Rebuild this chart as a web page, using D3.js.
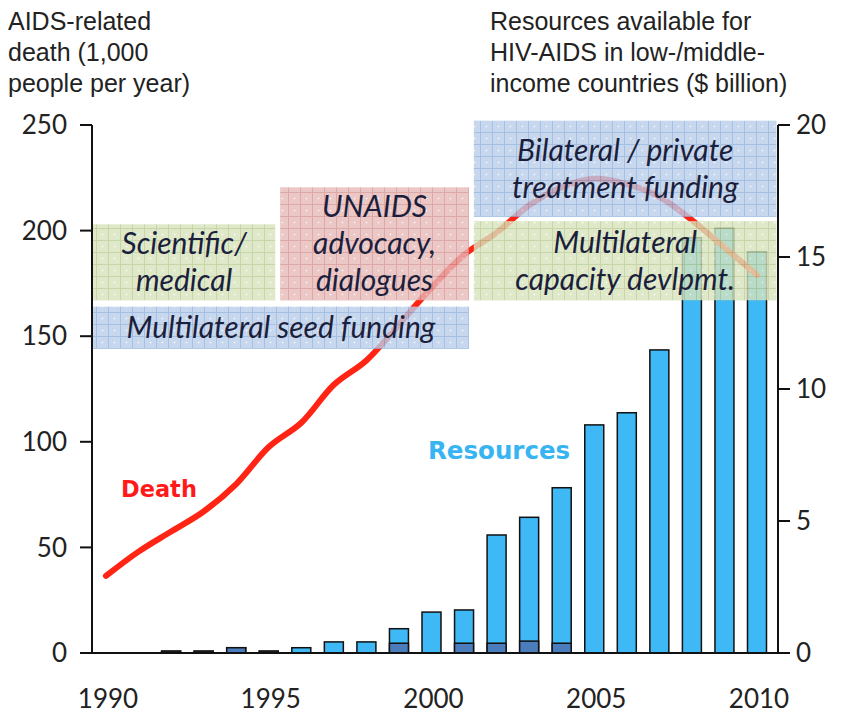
<!DOCTYPE html>
<html>
<head>
<meta charset="utf-8">
<script src="https://cdn.jsdelivr.net/npm/d3@7"></script>
<style>
  body { margin: 0; background: #fff; }
  svg { display: block; }
</style>
</head>
<body>
<div id="chart"></div>
<script>
// data
var years = d3.range(1990, 2011);
var deaths = [36.5, 48, 57.5, 67, 80, 97.5, 109, 127, 138.5, 155.5, 173, 188.5, 199, 212, 220.5, 224.5, 222, 216, 205, 192, 179];
var resDark = [0, 0, 0.07, 0.07, 0.2, 0.07, 0, 0, 0, 0.37, 0, 0.37, 0.37, 0.45, 0.37, 0, 0, 0, 0, 0, 0];
var resTotal = [0, 0, 0.07, 0.07, 0.2, 0.07, 0.2, 0.42, 0.42, 0.92, 1.55, 1.63, 4.47, 5.14, 6.26, 8.64, 9.1, 11.48, 15.73, 16.09, 15.2];
var leftTicks = [0, 50, 100, 150, 200, 250];
var rightTicks = [0, 5, 10, 15, 20];
var xTicks = [1990, 1995, 2000, 2005, 2010];

// annotation boxes: [x0 year, x1 year, y top, y bottom (left axis units)], label lines
var boxes = [
  {name: "sci", color: "green", x0: 1989.6, x1: 1995.2, y0: 203, y1: 167, lines: ["Scientific/", "medical"]},
  {name: "unaids", color: "red", x0: 1995.35, x1: 2001.15, y0: 220.5, y1: 167, lines: ["UNAIDS", "advocacy,", "dialogues"]},
  {name: "seed", color: "blue", x0: 1989.6, x1: 2001.15, y0: 164, y1: 144, lines: ["Multilateral seed funding"]},
  {name: "bilat", color: "blue", x0: 2001.3, x1: 2010.6, y0: 252, y1: 206.5, lines: ["Bilateral / private", "treatment funding"]},
  {name: "multi", color: "green", x0: 2001.3, x1: 2010.6, y0: 204.5, y1: 167, lines: ["Multilateral", "capacity devlpmt."]}
];

var W = 847, H = 714;
var x0 = 92, x1 = 778, yBase = 653, yTop = 125;

var x = d3.scaleLinear().domain([1990, 2010]).range([106, 757]);
var yL = d3.scaleLinear().domain([0, 250]).range([yBase, yTop]);
var yR = d3.scaleLinear().domain([0, 20]).range([yBase, yTop]);

var svg = d3.select("#chart").append("svg")
  .attr("width", W)
  .attr("height", H);

// patterns for the boxes
var palette = {
  green: {bg: "#d7e4bd", line: "#b9cc92"},
  red: {bg: "#e6b9b8", line: "#d49392"},
  blue: {bg: "#b9cde9", line: "#8fb0dc"}
};
var defs = svg.append("defs");
Object.keys(palette).forEach(function(k) {
  var p = defs.append("pattern")
    .attr("id", "pat-" + k)
    .attr("width", 12)
    .attr("height", 12)
    .attr("patternUnits", "userSpaceOnUse");
  p.append("rect").attr("width", 12).attr("height", 12).attr("fill", palette[k].bg);
  p.append("path").attr("d", "M0,0.5H12M0.5,0V12")
    .attr("stroke", palette[k].line).attr("stroke-width", 1);
  p.append("circle").attr("cx", 6.5).attr("cy", 6.5).attr("r", 0.8).attr("fill", "#fff");
});

// bars
var barW = 19;
var bars = svg.append("g");
years.forEach(function(yr, i) {
  if (resTotal[i] <= 0) return;
  var cx = x(yr);
  bars.append("rect")
    .attr("x", cx - barW / 2)
    .attr("y", yR(resTotal[i]))
    .attr("width", barW)
    .attr("height", yR(0) - yR(resTotal[i]))
    .attr("fill", "#3fb8f6")
    .attr("stroke", "#111")
    .attr("stroke-width", 1.5);
  if (resDark[i] > 0) {
    bars.append("rect")
      .attr("x", cx - barW / 2)
      .attr("y", yR(resDark[i]))
      .attr("width", barW)
      .attr("height", yR(0) - yR(resDark[i]))
      .attr("fill", "#4b7dbd")
      .attr("stroke", "#111")
      .attr("stroke-width", 1.5);
  }
});

// death line
var line = d3.line()
  .x(function(d, i) { return x(years[i]); })
  .y(function(d) { return yL(d); })
  .curve(d3.curveCatmullRom);

svg.append("path")
  .datum(deaths)
  .attr("d", line)
  .attr("fill", "none")
  .attr("stroke", "#ff2414")
  .attr("stroke-width", 6)
  .attr("stroke-linecap", "round");

// boxes on top, semi-transparent
var bg = svg.append("g");
boxes.forEach(function(b) {
  bg.append("rect")
    .attr("x", x(b.x0))
    .attr("y", yL(b.y0))
    .attr("width", x(b.x1) - x(b.x0))
    .attr("height", yL(b.y1) - yL(b.y0))
    .attr("fill", "url(#pat-" + b.color + ")")
    .attr("opacity", 0.8);
});
boxes.forEach(function(b) {
  var cx = (x(b.x0) + x(b.x1)) / 2;
  var cy = (yL(b.y0) + yL(b.y1)) / 2;
  var lh = 37;
  var n = b.lines.length;
  b.lines.forEach(function(t, j) {
    bg.append("text")
      .attr("x", cx)
      .attr("y", cy + (j - (n - 1) / 2) * lh)
      .attr("dy", "0.35em")
      .attr("text-anchor", "middle")
      .style("font-family", "Lato, 'Open Sans', sans-serif")
      .style("font-style", "italic")
      .style("font-size", "30px")
      .style("fill", "#1c1f3c")
      .text(t);
  });
});

// axes
var axes = svg.append("g").attr("stroke", "#111").attr("stroke-width", 2);
axes.append("line").attr("x1", x0).attr("x2", x0).attr("y1", yTop).attr("y2", yBase);
axes.append("line").attr("x1", x1).attr("x2", x1).attr("y1", yTop).attr("y2", yBase);
axes.append("line").attr("x1", x0).attr("x2", x1).attr("y1", yBase).attr("y2", yBase);

var tickFont = "Lato, 'Open Sans', sans-serif";
leftTicks.forEach(function(t) {
  axes.append("line").attr("x1", x0 - 12).attr("x2", x0).attr("y1", yL(t)).attr("y2", yL(t));
  svg.append("text")
    .attr("x", 67).attr("y", yL(t)).attr("dy", "0.35em")
    .attr("text-anchor", "end")
    .style("font-family", tickFont).style("font-size", "26px").style("fill", "#222")
    .text(t);
});
rightTicks.forEach(function(t) {
  axes.append("line").attr("x1", x1).attr("x2", x1 + 12).attr("y1", yR(t)).attr("y2", yR(t));
  svg.append("text")
    .attr("x", 796).attr("y", yR(t)).attr("dy", "0.35em")
    .attr("text-anchor", "start")
    .style("font-family", tickFont).style("font-size", "26px").style("fill", "#222")
    .text(t);
});
xTicks.forEach(function(t) {
  svg.append("text")
    .attr("x", x(t) + 2).attr("y", 699).attr("dy", "0.35em")
    .attr("text-anchor", "middle")
    .style("font-family", tickFont).style("font-size", "26px").style("fill", "#222")
    .text(t);
});

// axis titles
var titleL = ["AIDS-related", "death (1,000", "people per year)"];
var titleR = ["Resources available for", "HIV-AIDS in low-/middle-", "income countries ($ billion)"];
titleL.forEach(function(t, i) {
  svg.append("text").attr("x", 8).attr("y", 30 + i * 31)
    .style("font-family", "'Liberation Sans', Arial, sans-serif").style("font-size", "25px").style("fill", "#222")
    .text(t);
});
titleR.forEach(function(t, i) {
  svg.append("text").attr("x", 490).attr("y", 30 + i * 31)
    .style("font-family", "'Liberation Sans', Arial, sans-serif").style("font-size", "25px").style("fill", "#222")
    .text(t);
});

// series labels
svg.append("text").attr("x", 121).attr("y", 497)
  .style("font-family", "'DejaVu Sans', Verdana, sans-serif").style("font-weight", "bold")
  .style("font-size", "22.5px").style("fill", "#ff1a1a")
  .text("Death");
svg.append("text").attr("x", 428).attr("y", 459)
  .style("font-family", "'DejaVu Sans', Verdana, sans-serif").style("font-weight", "bold")
  .style("font-size", "24.5px").style("fill", "#39b4f2")
  .text("Resources");
</script>
</body>
</html>
